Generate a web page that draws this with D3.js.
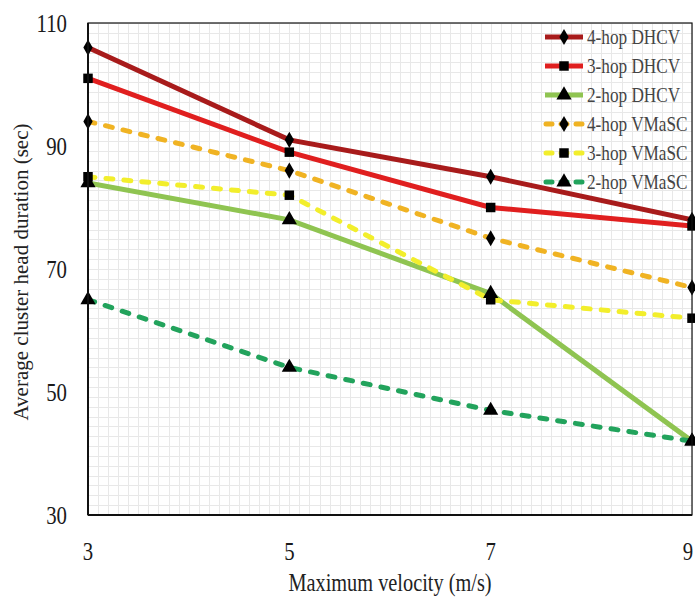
<!DOCTYPE html>
<html>
<head>
<meta charset="utf-8">
<script src="https://cdn.jsdelivr.net/npm/d3@7"></script>
<style>
  html, body { margin: 0; padding: 0; background: #fff; }
  svg { display: block; }
  text { font-family: "Liberation Serif", "Times New Roman", serif; }
</style>
</head>
<body>
<svg id="chart" width="695" height="603"></svg>
<script>
// Maximum velocity (m/s) on the x axis
const velocities = [3, 5, 7, 9];
const xTicks = [3, 5, 7, 9];
const yTicks = [30, 50, 70, 90, 110];

// Average cluster head duration (sec) per scheme
const dhcv4 = [106, 91, 85, 78];
const dhcv3 = [101, 89, 80, 77];
const dhcv2 = [84, 78, 66, 42];
const vmasc4 = [94, 86, 75, 67];
const vmasc3 = [85, 82, 65, 62];
const vmasc2 = [65, 54, 47, 42];

const seriesNames = ["4-hop DHCV", "3-hop DHCV", "2-hop DHCV", "4-hop VMaSC", "3-hop VMaSC", "2-hop VMaSC"];
const seriesValues = [dhcv4, dhcv3, dhcv2, vmasc4, vmasc3, vmasc2];
const seriesColors = ["#a81b1b", "#e01f1f", "#8fc451", "#f0b323", "#f2ee2c", "#22a35c"];
const seriesDashed = [false, false, false, true, true, true];
const seriesMarkers = ["diamond", "square", "triangle", "diamond", "square", "triangle"];

const svg = d3.select("#chart");
const margin = { left: 88, right: 3, top: 23, bottom: 88 };
const W = 695, H = 603;
const x = d3.scaleLinear().domain([3, 9]).range([margin.left, W - margin.right]);
const y = d3.scaleLinear().domain([30, 110]).range([H - margin.bottom, margin.top]);

const x0 = x.range()[0], x1 = x.range()[1];
const y0 = y.range()[1], y1 = y.range()[0];

// narrow serif text: the glyphs are squeezed horizontally
function label(parent, px, py, str, opts) {
  const o = Object.assign({ size: 20, anchor: "middle", sx: 1, rot: 0, fill: "#1a1a1a" }, opts);
  return parent.append("text")
    .attr("transform", `translate(${px},${py}) rotate(${o.rot}) scale(${o.sx},1)`)
    .attr("text-anchor", o.anchor)
    .attr("font-size", o.size)
    .attr("fill", o.fill)
    .text(str);
}

// fine background grid
const grid = svg.append("g").attr("stroke", "#e8e8e8").attr("stroke-width", 1);
grid.selectAll("line.v").data(d3.range(3, 9.0001, 0.1)).join("line")
  .attr("x1", d => Math.round(x(d)) + 0.5).attr("x2", d => Math.round(x(d)) + 0.5)
  .attr("y1", y0).attr("y2", y1);
grid.selectAll("line.h").data(d3.range(30, 110.0001, 1.6)).join("line")
  .attr("y1", d => Math.round(y(d)) + 0.5).attr("y2", d => Math.round(y(d)) + 0.5)
  .attr("x1", x0).attr("x2", x1);

svg.append("defs").append("clipPath").attr("id", "plotClip")
  .append("rect").attr("x", x0).attr("y", y0).attr("width", x1 - x0).attr("height", y1 - y0);

// tick labels (no tick marks), placed from the scales
const tickG = svg.append("g");
yTicks.forEach(v => label(tickG, x0 - 21, y(v) + 9, d3.format("d")(v), { size: 26, anchor: "end", sx: 0.8 }));
xTicks.forEach((v, i) => {
  const px = x(v) - (i === xTicks.length - 1 ? 4 : 0);
  label(tickG, px, y1 + 45, d3.format("d")(v), { size: 26, sx: 0.8 });
});

// series lines
const line = d3.line().x((d, i) => x(velocities[i])).y(d => y(d));
const lines = svg.append("g").attr("clip-path", "url(#plotClip)");
const order = [0, 1, 2, 3, 4, 5];
order.forEach(k => {
  lines.append("path").datum(seriesValues[k])
    .attr("d", line)
    .attr("fill", "none")
    .attr("stroke", seriesColors[k])
    .attr("stroke-width", 5)
    .attr("stroke-linecap", seriesDashed[k] ? "round" : "butt")
    .attr("stroke-dasharray", seriesDashed[k] ? "7 11" : null);
});

const symbolType = { diamond: d3.symbolDiamond, square: d3.symbolSquare, triangle: d3.symbolTriangle };
const symbolSize = { diamond: 75, square: 90, triangle: 100 };
const markers = svg.append("g");
order.forEach(k => {
  markers.selectAll(null).data(seriesValues[k]).join("path")
    .attr("transform", (d, i) => `translate(${x(velocities[i])},${y(d)})`)
    .attr("d", d3.symbol().type(symbolType[seriesMarkers[k]]).size(symbolSize[seriesMarkers[k]]))
    .attr("fill", "#000");
});

// plot frame
svg.append("rect").attr("x", x0).attr("y", y0).attr("width", x1 - x0).attr("height", y1 - y0)
  .attr("fill", "none").attr("stroke", "#111").attr("stroke-width", 1.2);
svg.append("line").attr("x1", x0).attr("x2", x0).attr("y1", y0).attr("y2", y1)
  .attr("stroke", "#111").attr("stroke-width", 2);
svg.append("line").attr("x1", x0).attr("x2", x1).attr("y1", y1).attr("y2", y1)
  .attr("stroke", "#111").attr("stroke-width", 2);

// legend, clipped to the plot area
const legend = svg.append("g").attr("clip-path", "url(#plotClip)");
const lgX = 545, lgY = 37, lgStep = 29;
seriesNames.forEach((name, k) => {
  const g = legend.append("g").attr("transform", `translate(${lgX},${lgY + k * lgStep})`);
  g.append("line").attr("x1", 0).attr("x2", 38).attr("y1", 0).attr("y2", 0)
    .attr("stroke", seriesColors[k]).attr("stroke-width", 5)
    .attr("stroke-linecap", seriesDashed[k] ? "round" : "butt")
    .attr("stroke-dasharray", seriesDashed[k] ? "6 9" : null)
    .attr("stroke-dashoffset", seriesDashed[k] ? -1 : 0);
  g.append("path").attr("transform", "translate(19,0)")
    .attr("d", d3.symbol().type(symbolType[seriesMarkers[k]]).size(symbolSize[seriesMarkers[k]])())
    .attr("fill", "#000");
  label(g, 42, 7, name, { size: 21, anchor: "start", sx: 0.82, fill: "#444" });
});

// axis titles
label(svg, 390, 591, "Maximum velocity (m/s)", { size: 24.5, sx: 0.83, fill: "#222" });
label(svg, 28, 272, "Average cluster head duration (sec)", { size: 21, rot: -90, fill: "#222" });
</script>
</body>
</html>
